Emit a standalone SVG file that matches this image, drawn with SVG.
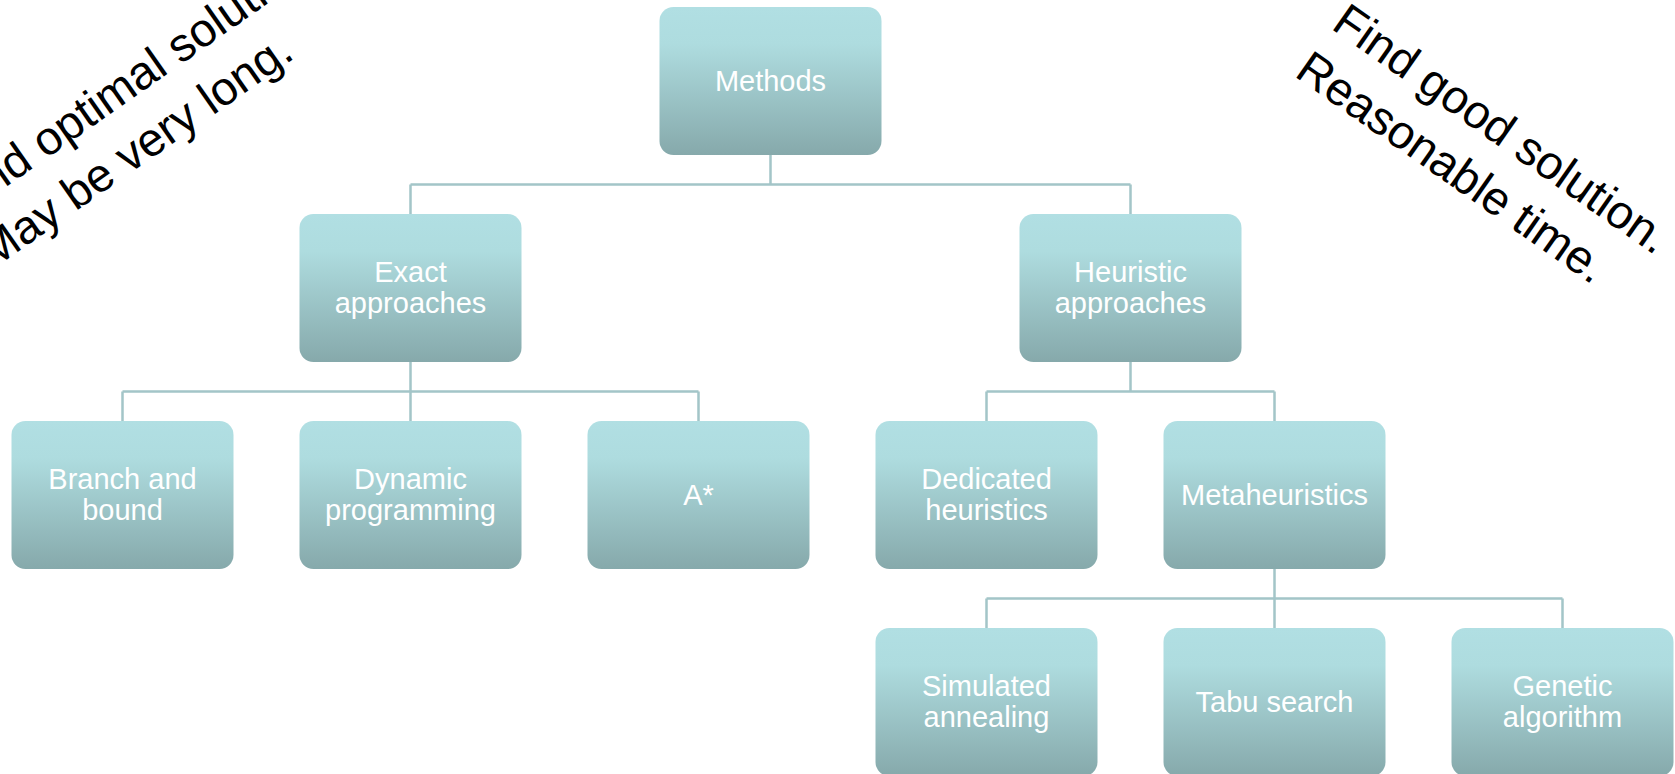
<svg xmlns="http://www.w3.org/2000/svg" width="1675" height="774" viewBox="0 0 1675 774">
<defs>
<linearGradient id="boxGrad" x1="0" y1="0" x2="0" y2="1">
<stop offset="0" stop-color="#b1dfe3"/>
<stop offset="0.25" stop-color="#aedcdf"/>
<stop offset="1" stop-color="#86a9ab"/>
</linearGradient>
</defs>
<style>
.box{fill:url(#boxGrad);}
.lbl{font-family:"Liberation Sans",Arial,sans-serif;font-size:29px;fill:#ffffff;text-anchor:middle;}
.note{font-family:"Liberation Sans",Arial,sans-serif;font-size:47px;fill:#000000;}
.conn{fill:none;stroke:#a3c5c8;stroke-width:2.5;}
</style>
<rect width="1675" height="774" fill="#ffffff"/>
<g id="connectors">
<path class="conn" d="M770.5,155 V184.5 M410.5,184.5 H1130.5 M410.5,184.5 V214 M1130.5,184.5 V214"/>
<path class="conn" d="M410.5,362 V391.5 M122.5,391.5 H698.5 M122.5,391.5 V421 M410.5,391.5 V421 M698.5,391.5 V421"/>
<path class="conn" d="M1130.5,362 V391.5 M986.5,391.5 H1274.5 M986.5,391.5 V421 M1274.5,391.5 V421"/>
<path class="conn" d="M1274.5,569 V598.5 M986.5,598.5 H1562.5 M986.5,598.5 V628 M1274.5,598.5 V628 M1562.5,598.5 V628"/>
</g>
<g id="methods"><rect class="box" x="659.5" y="7" width="222" height="148" rx="14"/><text class="lbl" x="770.5" y="91">Methods</text></g>
<g id="exact"><rect class="box" x="299.5" y="214" width="222" height="148" rx="14"/><text class="lbl" x="410.5" y="282">Exact</text><text class="lbl" x="410.5" y="313">approaches</text></g>
<g id="heuristic"><rect class="box" x="1019.5" y="214" width="222" height="148" rx="14"/><text class="lbl" x="1130.5" y="282">Heuristic</text><text class="lbl" x="1130.5" y="313">approaches</text></g>
<g id="branch"><rect class="box" x="11.5" y="421" width="222" height="148" rx="14"/><text class="lbl" x="122.5" y="489">Branch and</text><text class="lbl" x="122.5" y="520">bound</text></g>
<g id="dynamic"><rect class="box" x="299.5" y="421" width="222" height="148" rx="14"/><text class="lbl" x="410.5" y="489">Dynamic</text><text class="lbl" x="410.5" y="520">programming</text></g>
<g id="astar"><rect class="box" x="587.5" y="421" width="222" height="148" rx="14"/><text class="lbl" x="698.5" y="505">A*</text></g>
<g id="dedicated"><rect class="box" x="875.5" y="421" width="222" height="148" rx="14"/><text class="lbl" x="986.5" y="489">Dedicated</text><text class="lbl" x="986.5" y="520">heuristics</text></g>
<g id="metaheuristics"><rect class="box" x="1163.5" y="421" width="222" height="148" rx="14"/><text class="lbl" x="1274.5" y="505">Metaheuristics</text></g>
<g id="simulated"><rect class="box" x="875.5" y="628" width="222" height="148" rx="14"/><text class="lbl" x="986.5" y="696">Simulated</text><text class="lbl" x="986.5" y="727">annealing</text></g>
<g id="tabu"><rect class="box" x="1163.5" y="628" width="222" height="148" rx="14"/><text class="lbl" x="1274.5" y="712">Tabu search</text></g>
<g id="genetic"><rect class="box" x="1451.5" y="628" width="222" height="148" rx="14"/><text class="lbl" x="1562.5" y="696">Genetic</text><text class="lbl" x="1562.5" y="727">algorithm</text></g>
<g id="note-exact" transform="translate(-8,270) rotate(-35)"><text class="note" x="3" y="-60">Find optimal solution.</text><text class="note" x="0" y="0">May be very long.</text></g>
<g id="note-heuristic" transform="translate(1330,28) rotate(35)"><text class="note" x="0" y="0">Find good solution.</text><text class="note" x="-3" y="60">Reasonable time.</text></g>
</svg>
